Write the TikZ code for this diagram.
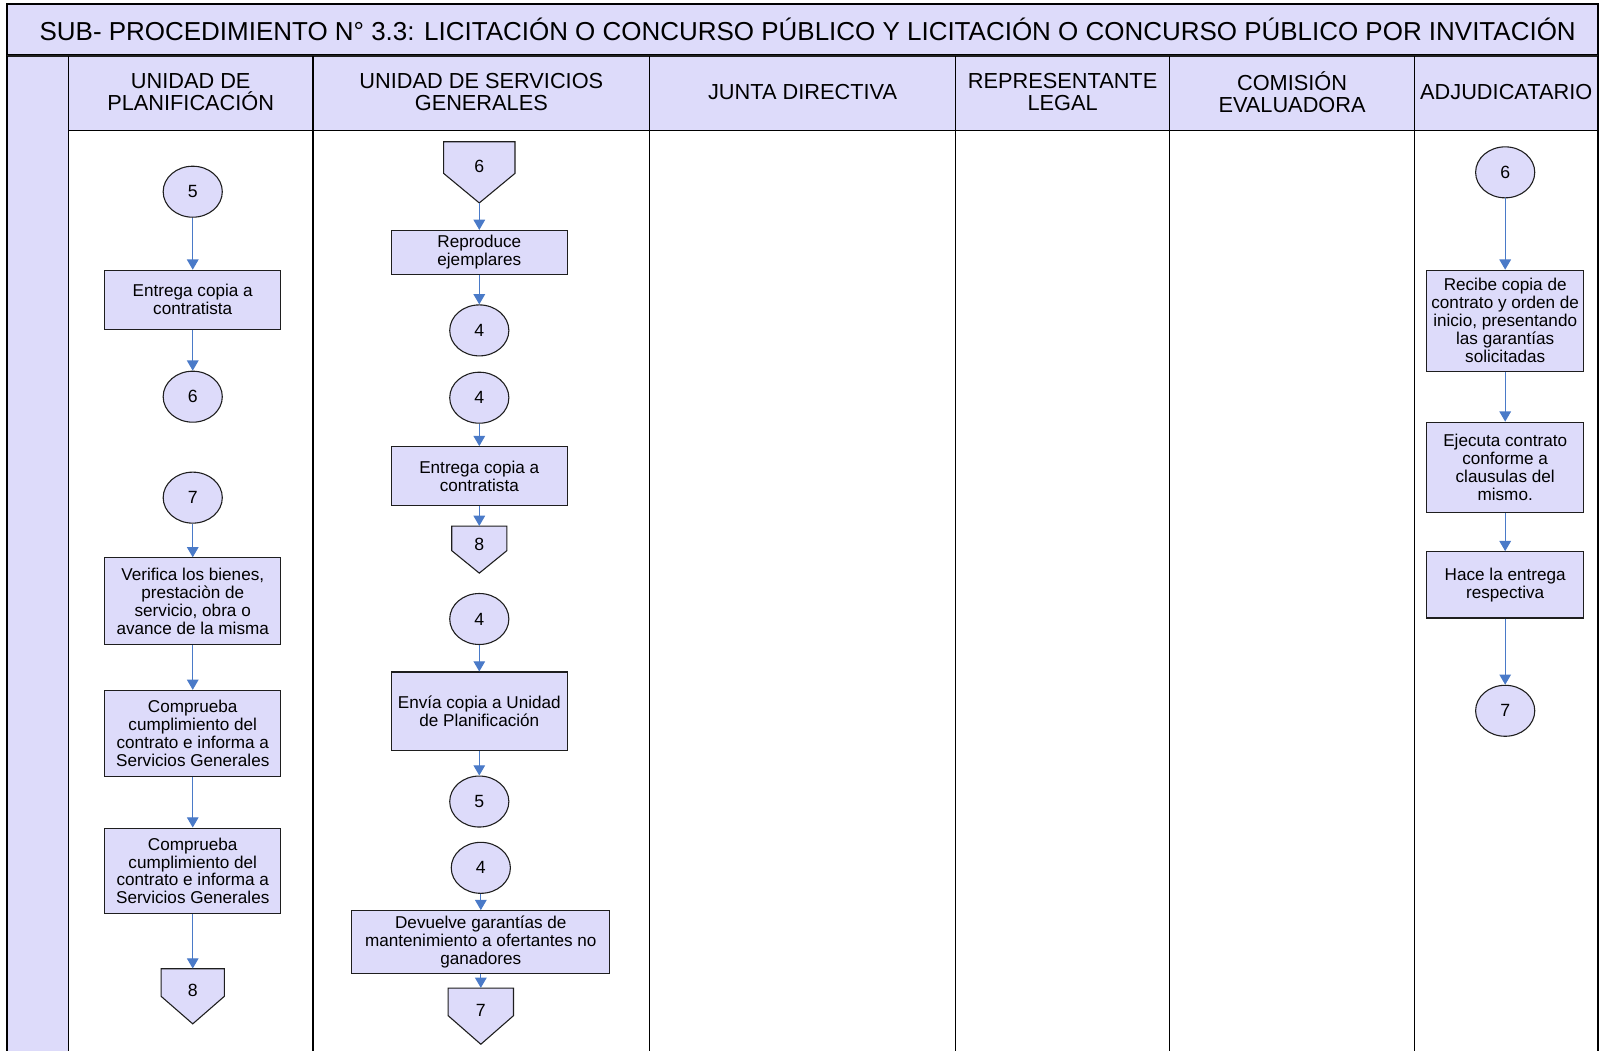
\documentclass[tikz,border=0pt]{standalone}
\usepackage{fontspec}
\setmainfont{Liberation Sans}
\usetikzlibrary{arrows.meta,shapes.geometric}
\definecolor{lav}{RGB}{221,219,250}
\definecolor{flow}{RGB}{74,122,200}
\definecolor{edge}{RGB}{30,30,30}
\newcommand\offpg[8]{% name, cx, top, rectbottom, point, halfwidth, raise(pt), label
  \draw[offdraw] (#2-#6,#3) -- (#2+#6,#3) -- (#2+#6,#4) -- (#2,#5) -- (#2-#6,#4) -- cycle;
  \node[offnode, minimum width={#6*1.5pt}, minimum height={(#5-#3)*0.75pt}] (#1) at (#2,{(#3+#5)/2}) {\raisebox{#7pt}{#8}};
}
\begin{document}
\begin{tikzpicture}[x=0.75pt,y=-0.75pt,
  proc/.style={draw=edge,fill=lav,line width=0.8pt,align=center,inner sep=1pt,
    font=\fontsize{12.6}{13.2}\selectfont},
  conn/.style={draw=edge,fill=lav,line width=0.8pt,ellipse,inner sep=0pt,
    minimum width=43.5pt,minimum height=37.5pt,font=\fontsize{13}{13.2}\selectfont},
  offdraw/.style={draw=edge,fill=lav,line width=0.8pt},
  offnode/.style={rectangle,inner sep=0pt,font=\fontsize{13}{13.2}\selectfont},
  hdr/.style={align=center,font=\fontsize{16}{16.3}\selectfont},
  ttl/.style={font=\fontsize{19.1}{22}\selectfont},
  fl/.style={draw=flow,line width=0.9pt,-{Triangle[width=8.5pt,length=7.5pt]}},
  lane/.style={draw=black,line width=1pt}]
\useasboundingbox (0,0) rectangle (1568,1030.6);
\fill[white] (0,0) rectangle (1568,1030.6);
% title
\draw[lane,fill=lav] (7,4) rectangle (1567,54);
\node[ttl] (title) at (792,29) {SUB- PROCEDIMIENTO N° 3.3: LICITACIÓN O CONCURSO PÚBLICO Y LICITACIÓN O CONCURSO PÚBLICO POR INVITACIÓN};
% header row and left strip
\fill[lav] (7,55) rectangle (1567,128);
\fill[lav] (7,55) rectangle (67,1031);
\draw[line width=1.6pt,edge] (7,55) -- (1567,55);
\draw[lane] (67,128) -- (1567,128);
\foreach \xx in {7,67,307,637,937,1147,1387,1567} {\draw[lane] (\xx,55) -- (\xx,1031);}
\node[hdr] (h1) at (187,90) {UNIDAD DE\\PLANIFICACIÓN};
\node[hdr] (h2) at (472,90) {UNIDAD DE SERVICIOS\\GENERALES};
\node[hdr] (h3) at (787,90) {JUNTA DIRECTIVA};
\node[hdr] (h4) at (1042,90) {REPRESENTANTE\\LEGAL};
\node[hdr] (h5) at (1267,90) {COMISIÓN\\EVALUADORA};
\node[hdr] (h6) at (1477,90) {ADJUDICATARIO};
% column 1
\node[conn] (a5) at (189,188) {5};
\node[proc,minimum width=129.75pt,minimum height=43.5pt] (a1) at (189,294) {Entrega copia a\\contratista};
\node[conn] (a6) at (189,389) {6};
\node[conn] (a7) at (189,488) {7};
\node[proc,minimum width=129.75pt,minimum height=63.75pt] (a2) at (189,589.5) {Verifica los bienes,\\prestaciòn de\\servicio, obra o\\avance de la misma};
\node[proc,minimum width=129.75pt,minimum height=63pt] (a3) at (189,719) {Comprueba\\cumplimiento del\\contrato e informa a\\Servicios Generales};
\node[proc,minimum width=129.75pt,minimum height=63pt] (a4) at (189,854) {Comprueba\\cumplimiento del\\contrato e informa a\\Servicios Generales};
\offpg{a8}{189}{950}{977}{1004}{31}{9.5}{8}
\draw[fl] (a5.south) -- (a5.south |- a1.north);
\draw[fl] (a1.south) -- (a1.south |- a6.north);
\draw[fl] (a7.south) -- (a7.south |- a2.north);
\draw[fl] (a2.south) -- (a2.south |- a3.north);
\draw[fl] (a3.south) -- (a3.south |- a4.north);
\draw[fl] (a4.south) -- (a4.south |- a8.north);
% column 2
\offpg{b6}{470}{139}{170}{199}{35}{9}{6}
\node[proc,minimum width=129.75pt,minimum height=32.25pt] (b1) at (470,247.5) {Reproduce\\ejemplares};
\node[conn] (b4a) at (470,324) {4};
\node[conn] (b4b) at (470,390) {4};
\node[proc,minimum width=129.75pt,minimum height=43.5pt] (b2) at (470,467) {Entrega copia a\\contratista};
\offpg{b8}{470}{516}{540}{562}{27}{7.5}{8}
\node[conn] (b4c) at (470,607) {4};
\node[proc,minimum width=129.75pt,minimum height=57.75pt] (b3) at (470,697.5) {Envía copia a Unidad\\de Planificación};
\node[conn] (b5) at (470,786) {5};
\node[conn] (b4d) at (471.5,851) {4};
\node[proc,minimum width=189.75pt,minimum height=46.5pt] (b4) at (471.5,924) {Devuelve garantías de\\mantenimiento a ofertantes no\\ganadores};
\offpg{b7}{471.5}{969}{996}{1024}{32}{8.6}{7}
\draw[fl] (b6.south) -- (b6.south |- b1.north);
\draw[fl] (b1.south) -- (b1.south |- b4a.north);
\draw[fl] (b4b.south) -- (b4b.south |- b2.north);
\draw[fl] (b2.south) -- (b2.south |- b8.north);
\draw[fl] (b4c.south) -- (b4c.south |- b3.north);
\draw[fl] (b3.south) -- (b3.south |- b5.north);
\draw[fl] (b4d.south) -- (b4d.south |- b4.north);
\draw[fl] (b4.south) -- (b4.south |- b7.north);
% column 6
\node[conn] (c6) at (1476,169) {6};
\node[proc,minimum width=115.5pt,minimum height=74.25pt] (c1) at (1476,314.5) {Recibe copia de\\contrato y orden de\\inicio, presentando\\las garantías\\solicitadas};
\node[proc,minimum width=115.5pt,minimum height=66.75pt] (c2) at (1476,458.5) {Ejecuta contrato\\conforme a\\clausulas del\\mismo.};
\node[proc,minimum width=115.5pt,minimum height=48.75pt] (c3) at (1476,573.5) {Hace la entrega\\respectiva};
\node[conn] (c7) at (1476,697) {7};
\draw[fl] (c6.south) -- (c6.south |- c1.north);
\draw[fl] (c1.south) -- (c1.south |- c2.north);
\draw[fl] (c2.south) -- (c2.south |- c3.north);
\draw[fl] (c3.south) -- (c3.south |- c7.north);
\end{tikzpicture}
\end{document}
